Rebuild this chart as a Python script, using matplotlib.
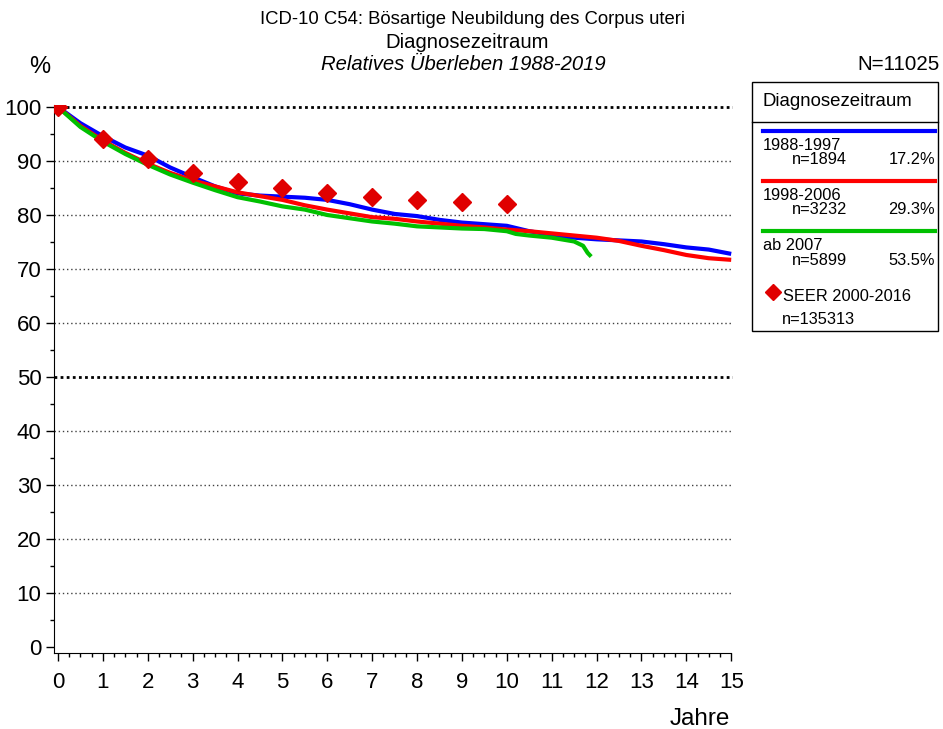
import numpy as np
import matplotlib.pyplot as plt
from matplotlib.ticker import MultipleLocator
from matplotlib.lines import Line2D

plt.rcParams['font.family'] = ['Liberation Sans', 'DejaVu Sans']

# 1988-1997
yrs_a = [0, 0.5, 1, 1.5, 2, 2.5, 3, 3.5, 4, 4.5, 5, 5.5, 6, 6.5, 7, 7.5, 8, 8.5,
         9, 9.5, 10, 10.5, 11, 11.5, 12, 12.5, 13, 13.5, 14, 14.5, 15]
surv_a = [100, 97.0, 94.6, 92.5, 91.0, 88.8, 87.0, 85.3, 84.0, 83.6, 83.4, 83.2, 82.8, 82.0,
          81.0, 80.2, 79.8, 79.1, 78.6, 78.3, 78.0, 77.0, 76.3, 75.8, 75.5, 75.3, 75.1,
          74.6, 74.0, 73.6, 72.8]
# 1998-2006
yrs_b = yrs_a
surv_b = [100, 96.5, 93.8, 91.5, 89.5, 87.8, 86.4, 85.3, 84.2, 83.5, 82.8, 81.8, 81.0, 80.3,
          79.6, 79.3, 78.8, 78.4, 78.0, 77.7, 77.3, 77.0, 76.6, 76.2, 75.8, 75.2, 74.3,
          73.5, 72.6, 72.0, 71.7]
# ab 2007
yrs_c = [0, 0.5, 1, 1.5, 2, 2.5, 3, 3.5, 4, 4.5, 5, 5.5, 6, 6.5, 7, 7.5, 8, 8.5,
         9, 9.5, 10, 10.2, 10.5, 11, 11.5, 11.7, 11.8, 11.88]
surv_c = [100, 96.3, 93.6, 91.3, 89.3, 87.5, 86.0, 84.6, 83.3, 82.5, 81.6, 81.0, 80.0, 79.4,
          78.8, 78.4, 77.9, 77.7, 77.5, 77.4, 77.0, 76.5, 76.2, 75.8, 75.1, 74.3, 73.0, 72.3]

seer_yrs = [0, 1, 2, 3, 4, 5, 6, 7, 8, 9, 10]
seer_surv = [100, 94.0, 90.3, 87.8, 86.2, 85.0, 84.0, 83.3, 82.8, 82.4, 82.0]

labels = ['1988-1997', '1998-2006', 'ab 2007']
counts = ['n=1894', 'n=3232', 'n=5899']
shares = ['17.2%', '29.3%', '53.5%']
colors = ['#0000ff', '#ff0000', '#00c000']

W, H = 943, 729
fig = plt.figure(figsize=(W / 100, H / 100), dpi=100)
ax = fig.add_axes([54 / W, 1 - 653 / H, (733 - 54) / W, (653 - 105) / H])
ax.set_xlim(-0.089, 15.04)
ax.set_ylim(-1.1, 100.37)

# grid
for v in range(10, 100, 10):
    if v == 50:
        continue
    ax.plot([-0.089, 15.04], [v, v], color='#404040', lw=1.0, ls=(0, (1, 2)), zorder=1)
for v in (50, 100):
    ax.plot([-0.089, 15.04], [v, v], color='black', lw=2.0, ls=(0, (1, 1.2)), zorder=1)

ax.plot(yrs_a, surv_a, color=colors[0], lw=3, zorder=3, solid_capstyle='butt')
ax.plot(yrs_b, surv_b, color=colors[1], lw=3, zorder=4, solid_capstyle='butt')
ax.plot(yrs_c, surv_c, color=colors[2], lw=3, zorder=5, solid_capstyle='butt')
ax.plot(seer_yrs, seer_surv, ls='none', marker='D', color='#e00000', ms=9, zorder=6)

for s in ('top', 'right'):
    ax.spines[s].set_visible(False)
ax.spines['bottom'].set_bounds(-0.089, 15)
ax.xaxis.set_major_locator(MultipleLocator(1))
ax.xaxis.set_minor_locator(MultipleLocator(0.25))
ax.yaxis.set_major_locator(MultipleLocator(10))
ax.yaxis.set_minor_locator(MultipleLocator(5))
ax.tick_params(axis='both', which='major', length=6, width=1, labelsize=16)
ax.tick_params(axis='both', which='minor', length=3, width=1)
ax.tick_params(axis='x', pad=8)
ax.tick_params(axis='y', pad=3)

# titles
fig.text(472 / W, 1 - 19 / H, 'ICD-10 C54: Bösartige Neubildung des Corpus uteri',
         ha='center', va='center', fontsize=13.3)
fig.text(467 / W, 1 - 42 / H, 'Diagnosezeitraum', ha='center', va='center', fontsize=14.6)
fig.text(463 / W, 1 - 64 / H, 'Relatives Überleben 1988-2019', ha='center', va='center',
         fontsize=14.6, style='italic')
fig.text(40 / W, 1 - 67 / H, '%', ha='center', va='center', fontsize=17)
fig.text(940 / W, 1 - 65 / H, 'N=11025', ha='right', va='center', fontsize=14.8)
fig.text(700 / W, 1 - 719 / H, 'Jahre', ha='center', va='center', fontsize=17.5)

# legend box
lx0, lx1, ly0, ly1, lyh = 752, 938, 82, 331, 122
fig.add_artist(plt.Rectangle((lx0 / W, 1 - ly1 / H), (lx1 - lx0) / W, (ly1 - ly0) / H,
                             transform=fig.transFigure, fill=False, lw=1, color='black'))
fig.add_artist(Line2D([lx0 / W, lx1 / W], [1 - lyh / H, 1 - lyh / H],
                      transform=fig.transFigure, lw=1, color='black'))
fig.text(763 / W, 1 - 101 / H, 'Diagnosezeitraum', ha='left', va='center', fontsize=13.4)
for i in range(3):
    yl = 131 + i * 50
    fig.add_artist(Line2D([763 / W, 935 / W], [1 - yl / H, 1 - yl / H],
                          transform=fig.transFigure, lw=3, color=colors[i]))
    fig.text(763 / W, 1 - (yl + 15) / H, labels[i], ha='left', va='center', fontsize=11.8)
    fig.text(792 / W, 1 - (yl + 29) / H, counts[i], ha='left', va='center', fontsize=11.8)
    fig.text(935 / W, 1 - (yl + 29) / H, shares[i], ha='right', va='center', fontsize=11.8)
fig.add_artist(Line2D([773 / W], [1 - 292 / H], transform=fig.transFigure, ls='none',
                      marker='D', color='#e00000', ms=8))
fig.text(783 / W, 1 - 296 / H, 'SEER 2000-2016', ha='left', va='center', fontsize=11.8)
fig.text(782 / W, 1 - 320 / H, 'n=135313', ha='left', va='center', fontsize=11.8)

fig.savefig('out.png', dpi=100)
